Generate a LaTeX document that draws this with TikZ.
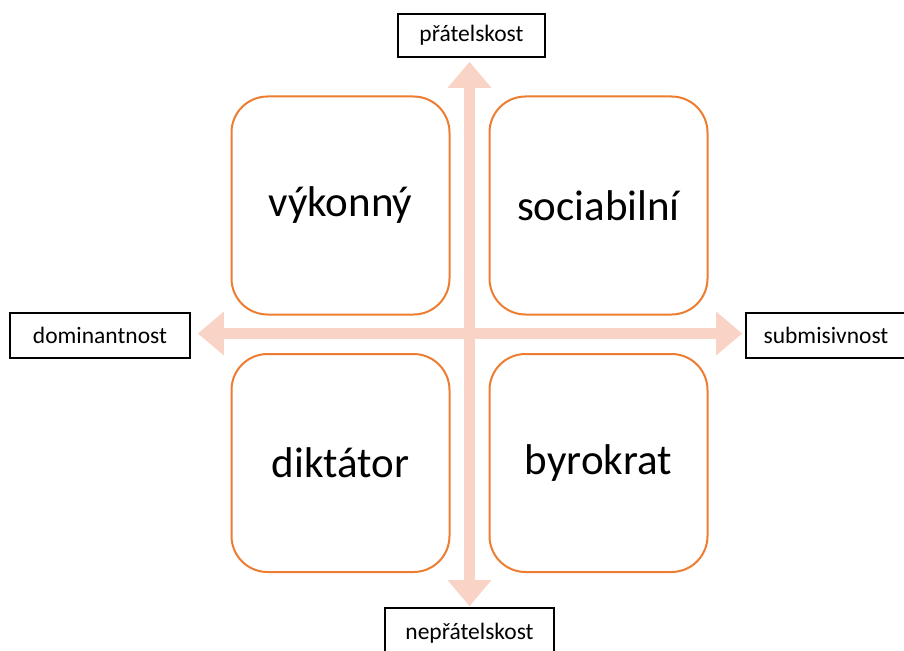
\documentclass[tikz,border=0pt]{standalone}
\usepackage{fontspec}
\setmainfont{Carlito}
\usetikzlibrary{arrows.meta}
\definecolor{quadline}{HTML}{ED7D31}
\definecolor{axisfill}{HTML}{F8D3C6}
\begin{document}
\begin{tikzpicture}[x=1pt,y=-1pt,
  quad/.style={draw=quadline, fill=white, line width=2pt, rounded corners=36pt,
    minimum width=218pt, minimum height=218pt, inner sep=0pt,
    font=\fontsize{43}{50}\selectfont},
  pole/.style={draw=black, fill=white, line width=1.6pt, inner sep=0pt,
    font=\fontsize{23.5}{28}\selectfont},
  axis/.style={draw=axisfill, line width=11pt,
    {Triangle[width=42pt,length=26pt]}-{Triangle[width=42pt,length=26pt]}}]
\useasboundingbox (0,0) rectangle (904,650);

% crossing point of the two axes
\coordinate (hub) at (469.5,333.5);

% pole labels at the ends of the two axes
\node[pole, minimum width=147pt, minimum height=43pt] (friend) at (471.5,35.5) {přátelskost};
\node[pole, minimum width=169pt, minimum height=50pt] (hostile) at (469.5,633) {nepřátelskost};
\node[pole, minimum width=180pt, minimum height=45pt] (dom) at (100,335.5) {dominantnost};
\node[pole, minimum width=160pt, minimum height=45pt] (sub) at (826,335.5) {submisivnost};

% the two axes
\draw[axis, shorten <=4pt, shorten >=1pt] (friend.south -| hub) -- (hostile.north -| hub);
\draw[axis, shorten <=7pt, shorten >=3pt] (dom.east |- hub) -- (sub.west |- hub);

% the four quadrants
\node[quad] (tl) at (340.5,205.5) {výkonný};
\node[quad] (tr) at (598.5,205.5) {sociabilní};
\node[quad] (bl) at (340.5,463) {diktátor};
\node[quad] (br) at (598.5,463) {byrokrat};
\end{tikzpicture}
\end{document}
